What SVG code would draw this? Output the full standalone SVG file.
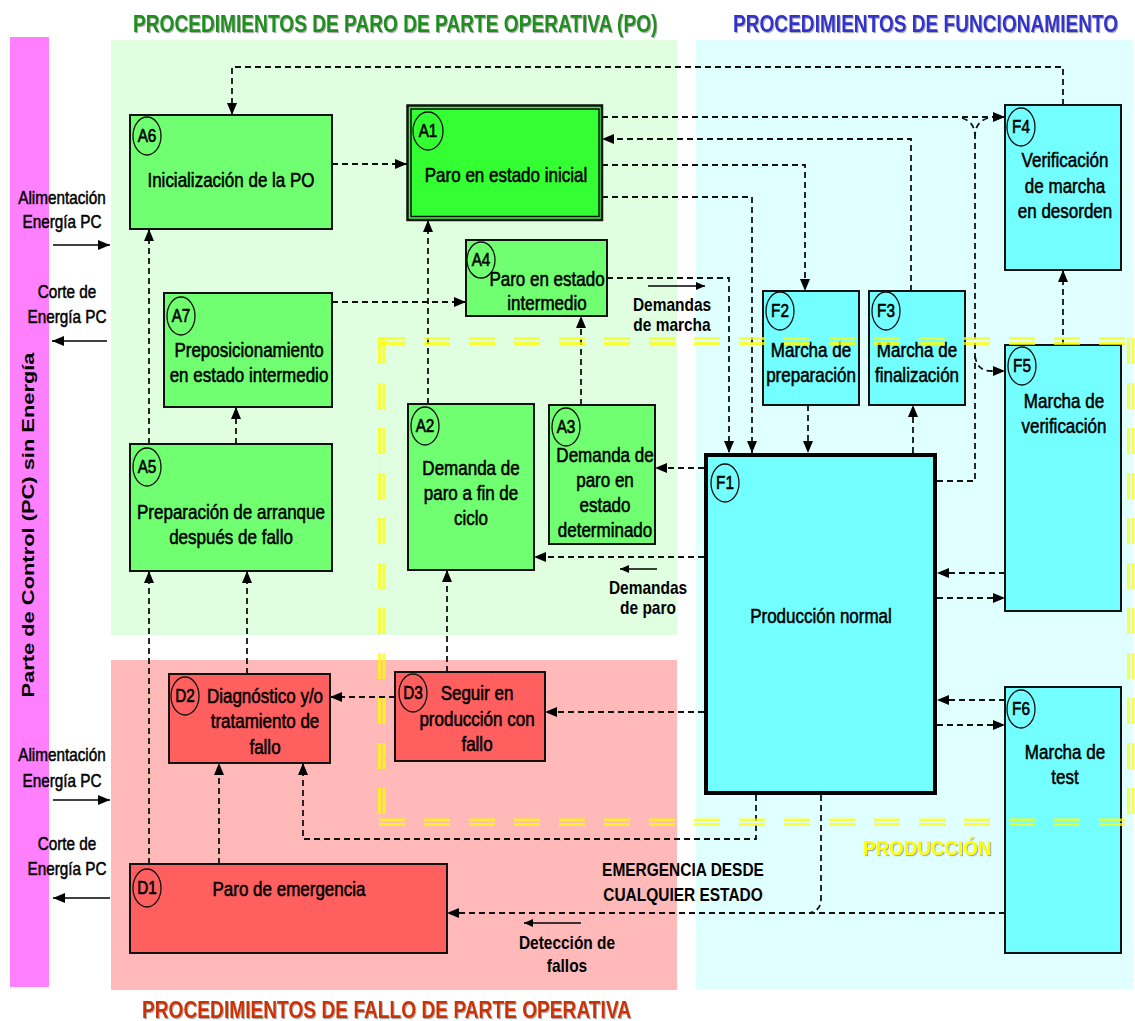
<svg xmlns="http://www.w3.org/2000/svg" width="1135" height="1021" viewBox="0 0 1135 1021">
<defs>
<marker id="ah" viewBox="0 0 12 10" refX="12" refY="5" markerWidth="12" markerHeight="10" markerUnits="userSpaceOnUse" orient="auto"><path d="M0,0 L12,5 L0,10 z" fill="#000"/></marker>
<marker id="as" viewBox="0 0 9 8" refX="9" refY="4" markerWidth="9" markerHeight="8" markerUnits="userSpaceOnUse" orient="auto"><path d="M0,0 L9,4 L0,8 z" fill="#000"/></marker>
<filter id="shd" x="-5%" y="-30%" width="110%" height="160%"><feDropShadow dx="1.2" dy="1.2" stdDeviation="0.6" flood-color="#777" flood-opacity="0.6"/></filter>
</defs>
<style>
.bgG{fill:#e0ffe0}.bgC{fill:#e0ffff}.bgP{fill:#ffb9b9}
.g{fill:#70ff70;stroke:#111;stroke-width:2}
.c{fill:#73ffff;stroke:#111;stroke-width:2}
.r{fill:#ff5f5f;stroke:#111;stroke-width:2}
.el{fill:none;stroke:#111;stroke-width:1.3}
text{font-family:"Liberation Sans",Arial,sans-serif;fill:#000}
.t{font-size:20px;text-anchor:middle;stroke:#000;stroke-width:0.55}
.lb{font-size:18px;text-anchor:middle;stroke:#000;stroke-width:0.6}
.an{font-size:18px;font-weight:bold;text-anchor:middle}
.side{font-size:18px;text-anchor:middle;stroke:#000;stroke-width:0.5}
.ttl{font-size:23px;font-weight:bold}
.d{fill:none;stroke:#111;stroke-width:1.8;stroke-dasharray:6 4}
.s{fill:none;stroke:#000;stroke-width:1.6}
.y{fill:none;stroke:#ffff00;stroke-width:3;stroke-dasharray:26 19;opacity:0.75}
</style>

<!-- backgrounds -->
<rect x="10" y="37" width="39" height="950" fill="#ff80ff"/>
<rect x="111" y="40" width="566" height="595" class="bgG"/>
<rect x="696" y="40" width="437" height="950" class="bgC"/>
<rect x="111" y="660" width="566" height="330" class="bgP"/>

<!-- titles -->
<g transform="translate(133,32) scale(0.832,1)" filter="url(#shd)"><text x="0" y="0" class="ttl" style="fill:#1a8f1a">PROCEDIMIENTOS DE PARO DE PARTE OPERATIVA (PO)</text></g>
<g transform="translate(733,32) scale(0.83,1)" filter="url(#shd)"><text x="0" y="0" class="ttl" style="fill:#3333cc">PROCEDIMIENTOS DE FUNCIONAMIENTO</text></g>
<g transform="translate(142,1018) scale(0.833,1)" filter="url(#shd)"><text x="0" y="0" class="ttl" style="fill:#cc3300">PROCEDIMIENTOS DE FALLO DE PARTE OPERATIVA</text></g>
<text transform="translate(34,525) rotate(-90)" x="0" y="0" style="font-size:17px;font-weight:bold;text-anchor:middle" textLength="345" lengthAdjust="spacingAndGlyphs">Parte de Control (PC)  sin Energía</text>

<!-- side labels -->
<g transform="translate(62,0) scale(0.85,1)"><text class="side" x="0" y="204">Alimentación</text><text class="side" x="0" y="228">Energía PC</text></g>
<g transform="translate(67,0) scale(0.85,1)"><text class="side" x="0" y="298">Corte de</text><text class="side" x="0" y="323">Energía PC</text></g>
<g transform="translate(62,0) scale(0.85,1)"><text class="side" x="0" y="761">Alimentación</text><text class="side" x="0" y="787">Energía PC</text></g>
<g transform="translate(67,0) scale(0.85,1)"><text class="side" x="0" y="850">Corte de</text><text class="side" x="0" y="875">Energía PC</text></g>
<path class="s" d="M53,245 H110" marker-end="url(#ah)"/>
<path class="s" d="M107,341 H52" marker-end="url(#ah)"/>
<path class="s" d="M53,800 H110" marker-end="url(#ah)"/>
<path class="s" d="M110,898 H53" marker-end="url(#ah)"/>

<!-- connectors -->
<g id="connectors">
<path class="d" d="M1063,105 V67 H232 V115" marker-end="url(#ah)"/>
<path class="d" d="M332,164 H407" marker-end="url(#ah)"/>
<path class="d" d="M602,117 H1005" marker-end="url(#ah)"/>
<path class="d" d="M911,291 V139 H602" marker-end="url(#ah)"/>
<path class="d" d="M602,165 H805 V291" marker-end="url(#ah)"/>
<path class="d" d="M602,197 H752 V453" marker-end="url(#ah)"/>
<path class="d" d="M607,278 H729 V453" marker-end="url(#ah)"/>
<path class="d" d="M808,405 V453" marker-end="url(#ah)"/>
<path class="d" d="M913,453 V405" marker-end="url(#ah)"/>
<path class="d" d="M937,481 H975 V136"/>
<path class="d" d="M962,118 Q975,122 975,136"/>
<path class="d" d="M988,118 Q975,122 975,136"/>
<path class="d" d="M975,356 Q977,371 991,371 L1005,371" marker-end="url(#ah)"/>
<path class="d" d="M1063,345 V270" marker-end="url(#ah)"/>
<path class="d" d="M1005,573 H937" marker-end="url(#ah)"/>
<path class="d" d="M937,598 H1005" marker-end="url(#ah)"/>
<path class="d" d="M1005,700 H937" marker-end="url(#ah)"/>
<path class="d" d="M937,725 H1005" marker-end="url(#ah)"/>
<path class="d" d="M704,468 H655" marker-end="url(#ah)"/>
<path class="d" d="M704,557 H534" marker-end="url(#ah)"/>
<path class="d" d="M704,712 H545" marker-end="url(#ah)"/>
<path class="d" d="M395,697 H330" marker-end="url(#ah)"/>
<path class="d" d="M447,672 V570" marker-end="url(#ah)"/>
<path class="d" d="M581,405 V316" marker-end="url(#ah)"/>
<path class="d" d="M428,404 V220" marker-end="url(#ah)"/>
<path class="d" d="M332,302 H466" marker-end="url(#ah)"/>
<path class="d" d="M236,444 V407" marker-end="url(#ah)"/>
<path class="d" d="M149,444 V229" marker-end="url(#ah)"/>
<path class="d" d="M149,864 V571" marker-end="url(#ah)"/>
<path class="d" d="M247,674 V571" marker-end="url(#ah)"/>
<path class="d" d="M219,864 V763" marker-end="url(#ah)"/>
<path class="d" d="M756,795 V839 H303 V763" marker-end="url(#ah)"/>
<path class="d" d="M1005,913 H447" marker-end="url(#ah)"/>
<path class="d" d="M821,795 V899 Q821,911 809,913"/>
</g>

<!-- annotation labels -->
<path class="s" d="M648,286 H705" marker-end="url(#as)"/>
<g transform="translate(672,0) scale(0.86,1)"><text class="an" x="0" y="311">Demandas</text><text class="an" x="0" y="331">de marcha</text></g>
<path class="s" d="M657,569 H620" marker-end="url(#as)"/>
<g transform="translate(648,0) scale(0.86,1)"><text class="an" x="0" y="594">Demandas</text><text class="an" x="0" y="614">de paro</text></g>
<g transform="translate(683,0) scale(0.86,1)"><text class="an" x="0" y="876">EMERGENCIA DESDE</text><text class="an" x="0" y="901">CUALQUIER ESTADO</text></g>
<path class="s" d="M581,923 H524" marker-end="url(#as)"/>
<g transform="translate(567,0) scale(0.86,1)"><text class="an" x="0" y="949">Detección de</text><text class="an" x="0" y="972">fallos</text></g>

<!-- nodes -->
<g id="A6"><rect x="130" y="115" width="202" height="114" class="g"/><ellipse cx="147" cy="136" rx="14" ry="19" class="el"/>
<g transform="translate(147,0) scale(0.85,1)"><text class="lb" x="0" y="142">A6</text></g>
<g transform="translate(231,0) scale(0.85,1)"><text class="t" x="0" y="187">Inicialización de la PO</text></g></g>

<g id="A1"><rect x="407.5" y="105.5" width="194.5" height="114.5" fill="#33ff33" stroke="#111" stroke-width="2.5"/><rect x="411" y="109" width="188" height="107.5" fill="none" stroke="#111" stroke-width="1.5"/><ellipse cx="428" cy="131" rx="15" ry="19" class="el"/>
<g transform="translate(428,0) scale(0.85,1)"><text class="lb" x="0" y="137">A1</text></g>
<g transform="translate(506,0) scale(0.85,1)"><text class="t" x="0" y="182">Paro en estado inicial</text></g></g>

<g id="A4"><rect x="466" y="240" width="141" height="76" class="g"/><ellipse cx="481" cy="260" rx="14" ry="18" class="el"/>
<g transform="translate(481,0) scale(0.85,1)"><text class="lb" x="0" y="266">A4</text></g>
<g transform="translate(547,0) scale(0.85,1)"><text class="t" x="0" y="286">Paro en estado</text><text class="t" x="0" y="310">intermedio</text></g></g>

<g id="A7"><rect x="164" y="293" width="168" height="114" class="g"/><ellipse cx="181" cy="316" rx="14" ry="19" class="el"/>
<g transform="translate(181,0) scale(0.85,1)"><text class="lb" x="0" y="322">A7</text></g>
<g transform="translate(249,0) scale(0.85,1)"><text class="t" x="0" y="357">Preposicionamiento</text><text class="t" x="0" y="382">en estado intermedio</text></g></g>

<g id="A5"><rect x="130" y="444" width="202" height="127" class="g"/><ellipse cx="147" cy="467" rx="14" ry="19" class="el"/>
<g transform="translate(147,0) scale(0.85,1)"><text class="lb" x="0" y="473">A5</text></g>
<g transform="translate(231,0) scale(0.85,1)"><text class="t" x="0" y="519">Preparación de arranque</text><text class="t" x="0" y="544">después de fallo</text></g></g>

<g id="A2"><rect x="408" y="404" width="126" height="166" class="g"/><ellipse cx="425" cy="426" rx="14" ry="19" class="el"/>
<g transform="translate(425,0) scale(0.85,1)"><text class="lb" x="0" y="432">A2</text></g>
<g transform="translate(471,0) scale(0.85,1)"><text class="t" x="0" y="475">Demanda de</text><text class="t" x="0" y="500">paro a fin de</text><text class="t" x="0" y="525">ciclo</text></g></g>

<g id="A3"><rect x="549" y="405" width="106" height="139" class="g"/><ellipse cx="566" cy="427" rx="14" ry="19" class="el"/>
<g transform="translate(566,0) scale(0.85,1)"><text class="lb" x="0" y="433">A3</text></g>
<g transform="translate(605,0) scale(0.85,1)"><text class="t" x="0" y="462">Demanda de</text><text class="t" x="0" y="487">paro en</text><text class="t" x="0" y="512">estado</text><text class="t" x="0" y="537">determinado</text></g></g>

<g id="F1"><rect x="706" y="455" width="229" height="338" fill="#73ffff" stroke="#000" stroke-width="4"/><ellipse cx="725" cy="483" rx="14" ry="19" class="el"/>
<g transform="translate(725,0) scale(0.85,1)"><text class="lb" x="0" y="489">F1</text></g>
<g transform="translate(821,0) scale(0.85,1)"><text class="t" x="0" y="623">Producción normal</text></g></g>

<g id="F2"><rect x="763" y="291" width="96" height="114" class="c"/><ellipse cx="780" cy="311" rx="14" ry="19" class="el"/>
<g transform="translate(780,0) scale(0.85,1)"><text class="lb" x="0" y="317">F2</text></g>
<g transform="translate(811,0) scale(0.85,1)"><text class="t" x="0" y="357">Marcha de</text><text class="t" x="0" y="382">preparación</text></g></g>

<g id="F3"><rect x="869" y="291" width="96" height="114" class="c"/><ellipse cx="886" cy="311" rx="14" ry="19" class="el"/>
<g transform="translate(886,0) scale(0.85,1)"><text class="lb" x="0" y="317">F3</text></g>
<g transform="translate(917,0) scale(0.85,1)"><text class="t" x="0" y="357">Marcha de</text><text class="t" x="0" y="382">finalización</text></g></g>

<g id="F4"><rect x="1005" y="105" width="116" height="165" class="c"/><ellipse cx="1021" cy="127" rx="14" ry="19" class="el"/>
<g transform="translate(1021,0) scale(0.85,1)"><text class="lb" x="0" y="133">F4</text></g>
<g transform="translate(1065,0) scale(0.85,1)"><text class="t" x="0" y="167">Verificación</text><text class="t" x="0" y="193">de marcha</text><text class="t" x="0" y="218">en desorden</text></g></g>

<g id="F5"><rect x="1005" y="345" width="116" height="266" class="c"/><ellipse cx="1022" cy="366" rx="14" ry="19" class="el"/>
<g transform="translate(1022,0) scale(0.85,1)"><text class="lb" x="0" y="372">F5</text></g>
<g transform="translate(1064,0) scale(0.85,1)"><text class="t" x="0" y="408">Marcha de</text><text class="t" x="0" y="433">verificación</text></g></g>

<g id="F6"><rect x="1005" y="687" width="116" height="266" class="c"/><ellipse cx="1021" cy="709" rx="14" ry="19" class="el"/>
<g transform="translate(1021,0) scale(0.85,1)"><text class="lb" x="0" y="715">F6</text></g>
<g transform="translate(1065,0) scale(0.85,1)"><text class="t" x="0" y="759">Marcha de</text><text class="t" x="0" y="784">test</text></g></g>

<g id="D2"><rect x="169" y="674" width="161" height="89" class="r"/><ellipse cx="185" cy="696" rx="14" ry="19" class="el"/>
<g transform="translate(185,0) scale(0.85,1)"><text class="lb" x="0" y="702">D2</text></g>
<g transform="translate(265,0) scale(0.85,1)"><text class="t" x="0" y="703">Diagnóstico y/o</text><text class="t" x="0" y="728">tratamiento de</text><text class="t" x="0" y="754">fallo</text></g></g>

<g id="D3"><rect x="395" y="672" width="150" height="89" class="r"/><ellipse cx="413" cy="693" rx="14" ry="19" class="el"/>
<g transform="translate(413,0) scale(0.85,1)"><text class="lb" x="0" y="699">D3</text></g>
<g transform="translate(477,0) scale(0.85,1)"><text class="t" x="0" y="700">Seguir en</text><text class="t" x="0" y="726">producción con</text><text class="t" x="0" y="751">fallo</text></g></g>

<g id="D1"><rect x="130" y="864" width="317" height="89" class="r"/><ellipse cx="147" cy="888" rx="14" ry="19" class="el"/>
<g transform="translate(147,0) scale(0.85,1)"><text class="lb" x="0" y="894">D1</text></g>
<g transform="translate(289,0) scale(0.85,1)"><text class="t" x="0" y="896">Paro de emergencia</text></g></g>

<!-- production zone -->
<g id="produccion">
<path class="y" d="M379,338.5 H1133 M379,343.5 H1133 M379,820 H1133 M379,824.5 H1133"/>
<path class="y" d="M379.5,338 V825 M384,338 V825 M1128.5,338 V825 M1133,338 V825"/>
<g transform="translate(863,855) scale(0.94,1)" filter="url(#shd)"><text x="0" y="0" style="font-size:20px;font-weight:bold;fill:#ffff00">PRODUCCIÓN</text></g>
</g>
</svg>
